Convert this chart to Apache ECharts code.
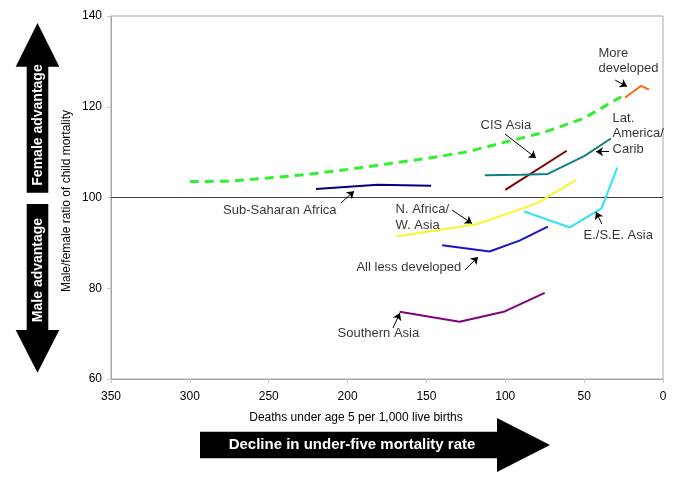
<!DOCTYPE html>
<html>
<head>
<meta charset="utf-8">
<script src="https://cdn.jsdelivr.net/npm/echarts@6/dist/echarts.min.js"></script>
<style>
html,body{margin:0;padding:0;background:#fff;}
#chart{width:683px;height:480px;}
</style>
</head>
<body>
<div id="chart"></div>
<script>
// ---- Data (x = deaths under age 5 per 1,000 live births, y = male/female ratio) ----
const xTicks = [350, 300, 250, 200, 150, 100, 50, 0];
const yTicks = [60, 80, 100, 120, 140];

const worldCurve = [[300,103.5],[275,103.6],[250,104.3],[225,105.1],[200,106.2],[175,107.4],[150,108.6],[125,110.0],[100,112.2],[75,114.4],[50,117.5],[25,122.5]];
const moreDeveloped = [[24,122.0],[19,123.3],[14,124.6],[9,123.8]];
const subSaharanAfrica = [[220,101.9],[181,102.8],[147,102.6]];
const cisAsia = [[100,101.7],[61,110.3]];
const latAmericaCarib = [[113,104.9],[90,105.0],[73,105.2],[50,109.1],[33,113.0]];
const nAfricaWAsia = [[169,91.4],[118,94.1],[80,98.7],[55,103.9]];
const eseAsia = [[88,96.9],[59,93.4],[39,97.6],[29,106.6]];
const allLessDeveloped = [[140,89.5],[110,88.1],[91,90.5],[73,93.6]];
const southernAsia = [[167,74.8],[129,72.6],[101,74.8],[75,79.0]];

const labelTexts = ['Sub-Saharan Africa','N. Africa/\nW. Asia','All less developed','Southern Asia','CIS Asia','Lat.\nAmerica/\nCarib','E./S.E. Asia','More\ndeveloped'];

// annotation anchor points (data coordinates) and arrows
const labelAnchors = [[206.7,97.24,'right'],[169.9,95.59,'left'],[194.7,84.68,'left'],[206.7,70.13,'left'],[116.0,115.98,'left'],[32.3,114.1,'left'],[50.7,91.73,'left'],[41.2,130.08,'left']];
const arrows = [
  [[204.2,98.8],[195.9,101.4]],
  [[133.8,97.24],[121.1,94.27]],
  [[125.6,84.0],[117.3,86.9]],
  [[171.2,71.24],[166.8,74.54]],
  [[100.2,114.0],[80.5,108.7]],
  [[34.2,110.1],[42.5,110.1]],
  [[38.7,94.16],[42.5,96.8]],
  [[30.4,125.9],[22.8,124.46]]
];

const FONT = '"Liberation Sans", Arial, sans-serif';

function lineSeries(name, data, color, extra) {
  return Object.assign({
    name: name, type: 'line', data: data, symbol: 'none',
    lineStyle: { color: color, width: 2 }, itemStyle: { color: color },
    silent: true, z: 3
  }, extra || {});
}

const chart = echarts.init(document.getElementById('chart'), null, { renderer: 'canvas' });

const labelData = labelTexts.map((t, i) => {
  const a = labelAnchors[i];
  return {
    value: [a[0], a[1]],
    label: {
      show: true, formatter: t,
      position: a[2] === 'right' ? 'left' : 'right',
      distance: 0,
      align: a[2] === 'right' ? 'right' : 'left',
      verticalAlign: 'middle',
      color: '#000', fontSize: 13, fontFamily: FONT, lineHeight: 15.5
    }
  };
});

const option = {
  animation: false,
  backgroundColor: '#ffffff',
  grid: { left: 111, right: 20, top: 16, bottom: 101, show: true, borderColor: '#a6a6a6', borderWidth: 1, containLabel: false },
  xAxis: {
    type: 'value', min: 0, max: 350, interval: 50, inverse: true,
    axisLine: { show: true, onZero: false, lineStyle: { color: '#a6a6a6', width: 1 } },
    axisTick: { show: true, length: 4, lineStyle: { color: '#c8c8c8' } },
    splitLine: { show: false },
    axisLabel: { color: '#000', fontSize: 12, fontFamily: FONT, margin: 12,
      formatter: v => xTicks.indexOf(v) >= 0 ? String(v) : '' }
  },
  yAxis: {
    type: 'value', min: 60, max: 140, interval: 20,
    axisLine: { show: true, onZero: false, lineStyle: { color: '#a6a6a6', width: 1 } },
    axisTick: { show: true, length: 4, lineStyle: { color: '#c8c8c8' } },
    splitLine: { show: false },
    axisLabel: { color: '#000', fontSize: 12, fontFamily: FONT, margin: 9,
      formatter: v => yTicks.indexOf(v) >= 0 ? String(v) : '' }
  },
  series: [
    lineSeries('World', worldCurve, '#33ee33', {
      lineStyle: { color: '#33ee33', width: 3, type: [9, 6] },
      markLine: {
        silent: true, symbol: ['none', 'none'], label: { show: false },
        lineStyle: { color: '#404040', width: 1, type: 'solid' },
        data: [{ yAxis: 100 }], z: 2
      }
    }),
    lineSeries('More developed', moreDeveloped, '#ff6a10'),
    lineSeries('Sub-Saharan Africa', subSaharanAfrica, '#000080'),
    lineSeries('CIS Asia', cisAsia, '#800000'),
    lineSeries('Lat. America/Carib', latAmericaCarib, '#108080'),
    lineSeries('N. Africa/W. Asia', nAfricaWAsia, '#f7f72a'),
    lineSeries('E./S.E. Asia', eseAsia, '#2de3f5'),
    lineSeries('All less developed', allLessDeveloped, '#1515d0'),
    lineSeries('Southern Asia', southernAsia, '#800080'),
    {
      name: 'labels', type: 'scatter', data: labelData,
      symbolSize: 1, itemStyle: { color: 'rgba(0,0,0,0)' }, silent: true, z: 5,
      markLine: {
        silent: true, symbol: ['none', 'arrow'], symbolSize: 7,
        label: { show: false },
        lineStyle: { color: '#000', width: 1, type: 'solid' },
        itemStyle: { color: '#000' },
        data: arrows.map(a => [{ coord: a[0] }, { coord: a[1] }])
      }
    }
  ],
  graphic: [
    // Female advantage (up arrow)
    { type: 'polygon', shape: { points: [[37.5,23],[59.3,66.7],[48.3,66.7],[48.3,192.7],[26.7,192.7],[26.7,66.7],[15.7,66.7]] }, style: { fill: '#000' } },
    { type: 'text', x: 38, y: 125, rotation: Math.PI / 2,
      style: { text: 'Female advantage', fill: '#fff', font: 'bold 14px ' + FONT, align: 'center', verticalAlign: 'middle' } },
    // Male advantage (down arrow)
    { type: 'polygon', shape: { points: [[26.7,204],[48.3,204],[48.3,330],[59.3,330],[37.5,372.7],[15.7,330],[26.7,330]] }, style: { fill: '#000' } },
    { type: 'text', x: 38, y: 270, rotation: Math.PI / 2,
      style: { text: 'Male advantage', fill: '#fff', font: 'bold 14px ' + FONT, align: 'center', verticalAlign: 'middle' } },
    // Y axis title
    { type: 'text', x: 67, y: 201, rotation: Math.PI / 2,
      style: { text: 'Male/female ratio of child mortality', fill: '#000', font: '12px ' + FONT, align: 'center', verticalAlign: 'middle' } },
    // X axis title
    { type: 'text', x: 356, y: 418,
      style: { text: 'Deaths under age 5 per 1,000 live births', fill: '#000', font: '12px ' + FONT, align: 'center', verticalAlign: 'middle' } },
    // Decline arrow
    { type: 'polygon', shape: { points: [[200,431.7],[497,431.7],[497,418],[550,445],[497,472],[497,458.3],[200,458.3]] }, style: { fill: '#000' } },
    { type: 'text', x: 352, y: 445,
      style: { text: 'Decline in under-five mortality rate', fill: '#fff', font: 'bold 15px ' + FONT, align: 'center', verticalAlign: 'middle' } }
  ]
};

chart.setOption(option);
</script>
</body>
</html>
